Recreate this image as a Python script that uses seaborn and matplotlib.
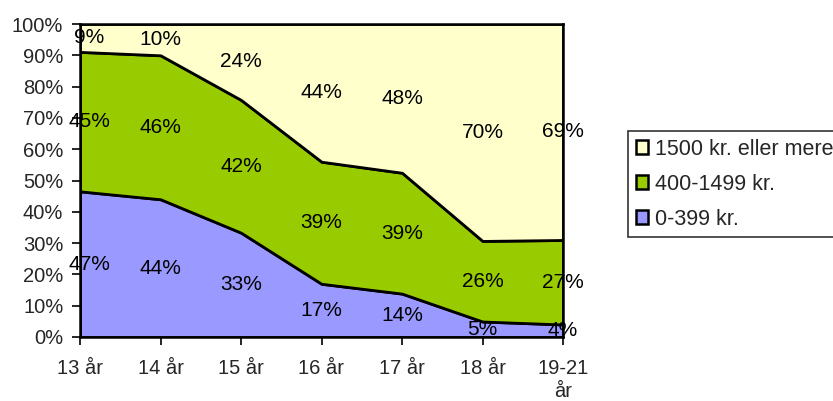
import numpy as np
import matplotlib
matplotlib.use("Agg")
import matplotlib.pyplot as plt
import seaborn as sns
from matplotlib.patches import Patch

# data
categories = ["13 år", "14 år", "15 år", "16 år", "17 år", "18 år", "19-21\når"]
low = [47, 44, 33, 17, 14, 5, 4]          # 0-399 kr.
mid = [45, 46, 42, 39, 39, 26, 27]        # 400-1499 kr.
high = [9, 10, 24, 44, 48, 70, 69]        # 1500 kr. eller mere
series_names = ["0-399 kr.", "400-1499 kr.", "1500 kr. eller mere"]
colors = ["#9999FF", "#99CC00", "#FFFFCC"]

sns.set_style("white")
plt.rcParams["font.family"] = ["Liberation Sans", "DejaVu Sans"]
FS = 14.5

vals = np.array([low, mid, high], dtype=float)
pct = vals / vals.sum(axis=0) * 100
x = np.arange(len(categories))

fig = plt.figure(figsize=(8.33, 4.01), dpi=100)
ax = fig.add_axes([80 / 833, 64 / 401, 483 / 833, 313 / 401])

ax.stackplot(x, pct, colors=colors, edgecolor="black", linewidth=2)

# data labels in the middle of each band (first column nudged inside)
cum = np.cumsum(pct, axis=0)
for k, raw in enumerate(vals):
    base = cum[k - 1] if k > 0 else np.zeros(len(x))
    for i in range(len(x)):
        dx = 6.5 if i == 0 else 0
        ax.annotate(f"{int(raw[i])}%", (x[i], base[i] + pct[k, i] / 2),
                    xytext=(dx, 0), textcoords="offset points",
                    ha="center", va="center", fontsize=15, color="black",
                    annotation_clip=False)

ax.set_xlim(0, len(x) - 1)
ax.set_ylim(0, 100)
ax.set_xticks(x)
ax.set_xticklabels(categories, fontsize=FS, linespacing=1.3)
ax.set_yticks(np.arange(0, 101, 10))
ax.set_yticklabels([f"{v}%" for v in range(0, 101, 10)], fontsize=FS)
ax.tick_params(axis="both", direction="out", length=5.5, width=1.2, color="black",
               bottom=True, left=True)
ax.tick_params(axis="y", pad=6.5)
ax.tick_params(axis="x", pad=10)
for s in ax.spines.values():
    s.set_visible(True)
    s.set_color("black")
    s.set_linewidth(1.8)

handles = [Patch(facecolor=colors[k], edgecolor="black", linewidth=1.8, label=series_names[k])
           for k in [2, 1, 0]]
leg = fig.legend(handles=handles, loc="upper left", bbox_to_anchor=(628 / 833, 1 - 131 / 401),
                 fontsize=15.5, frameon=True, fancybox=False, handlelength=0.6, handleheight=0.6,
                 handletextpad=0.3, borderpad=0.35, labelspacing=0.65, borderaxespad=0)
leg.get_frame().set_edgecolor("black")
leg.get_frame().set_linewidth(1.2)

fig.savefig("out.png", dpi=100)
